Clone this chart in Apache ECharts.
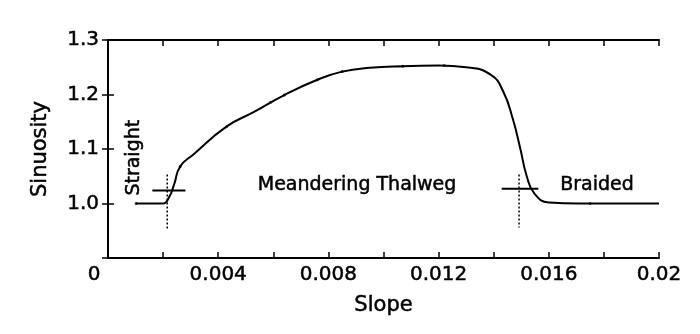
<!DOCTYPE html>
<html>
<head>
<meta charset="utf-8">
<script src="https://cdn.jsdelivr.net/npm/echarts@6/dist/echarts.min.js"></script>
<style>
html,body{margin:0;padding:0;background:#fff;}
#chart{width:700px;height:334px;}
</style>
</head>
<body>
<div id="chart"></div>
<script>
// Sinuosity vs slope curve
var curve = [
  [0.00102,1.0],[0.0020,1.0],[0.00222,1.012],[0.00240,1.035],[0.00262,1.068],
  [0.0031,1.090],[0.0043,1.141],[0.0053,1.168],[0.0064,1.199],
  [0.0076,1.227],[0.0085,1.242],[0.0095,1.249],[0.0107,1.252],[0.0120,1.253],
  [0.0130,1.250],[0.0139,1.236],[0.01435,1.205],[0.0147,1.154],[0.01496,1.102],
  [0.0152,1.050],[0.01548,1.018],[0.0160,1.002],[0.0171,1.0],[0.0200,1.0]
];
// Small measured dots on the curve
var measured = [
  [0.00102,1.0],[0.00262,1.068],[0.0043,1.141],[0.0059,1.186],[0.0064,1.199],
  [0.0076,1.227],[0.0085,1.242],[0.0107,1.252],[0.0122,1.253],[0.0175,1.0]
];
// Threshold crosshairs
var leftVertical = [[0.00215,1.053],[0.00215,0.952]];
var leftHorizontal = [[0.00161,1.024],[0.00281,1.024]];
var rightVertical = [[0.01492,1.053],[0.01492,0.956]];
var rightHorizontal = [[0.01429,1.027],[0.01562,1.027]];
// Region labels
var regionLabels = [
  {name:'Straight', value:[0.00095,1.084], rotate:90},
  {name:'Meandering Thalweg', value:[0.00904,1.033], rotate:0},
  {name:'Braided', value:[0.01775,1.033], rotate:0}
];
var xMin = 0, xMax = 0.02, xStep = 0.002;
var yMin = 0.9, yMax = 1.3, yStep = 0.1;

var FONT = 'DejaVu Sans';
var INK = '#000';
var BOLDEN = {textBorderColor:INK, textBorderWidth:0.5};

var chart = echarts.init(document.getElementById('chart'), null, {renderer:'canvas'});

function xLabel(v){
  var k = Math.round(v/0.002);
  if (k === 0) return '{z|0}';
  if (k % 2 !== 0) return '';
  if (k === 10) return '0.02';
  return (k*0.002).toFixed(3);
}

var axisCommon = {
  axisLine:{show:true, lineStyle:{color:INK, width:2}},
  axisTick:{show:true, inside:true, length:6, lineStyle:{color:INK, width:1.5}},
  splitLine:{show:false}
};

var option = {
  backgroundColor:'#fff',
  animation:false,
  grid:{left:108, right:41, top:40, bottom:76},
  xAxis:[
    Object.assign({
      type:'value', min:xMin, max:xMax, interval:xStep, position:'bottom',
      name:'Slope', nameLocation:'middle', nameGap:37,
      nameTextStyle:Object.assign({fontFamily:FONT, fontSize:21, color:INK}, BOLDEN),
      axisLabel:Object.assign({
        formatter:xLabel, margin:7, fontFamily:FONT, fontSize:20, color:INK,
        showMinLabel:true, showMaxLabel:true,
        rich:{z:Object.assign({fontFamily:FONT, fontSize:20, color:INK, padding:[0,28,0,0]}, BOLDEN)}
      }, BOLDEN)
    }, axisCommon),
    Object.assign({
      type:'value', min:xMin, max:xMax, interval:xStep, position:'top',
      axisLabel:{show:false}
    }, axisCommon)
  ],
  yAxis:[
    Object.assign({
      type:'value', min:yMin, max:yMax, interval:yStep, position:'left',
      name:'Sinuosity', nameLocation:'middle', nameGap:57, nameRotate:90,
      nameTextStyle:Object.assign({fontFamily:FONT, fontSize:21, color:INK}, BOLDEN),
      axisLabel:Object.assign({
        margin:9, fontFamily:FONT, fontSize:20, color:INK,
        formatter:function(v){ return v < 0.95 ? '' : v.toFixed(1); }
      }, BOLDEN)
    }, axisCommon),
    Object.assign({
      type:'value', min:yMin, max:yMax, interval:yStep, position:'right',
      axisLabel:{show:false}
    }, axisCommon)
  ],
  series:[
    {
      type:'line', data:curve, smooth:0.5, showSymbol:false,
      lineStyle:{color:INK, width:2}, z:3
    },
    {
      type:'scatter', data:measured, symbol:'circle', symbolSize:3,
      itemStyle:{color:INK}, z:4
    },
    {type:'line', data:leftVertical, showSymbol:false, lineStyle:{color:INK, width:1.5, type:[2,2]}},
    {type:'line', data:leftHorizontal, showSymbol:false, lineStyle:{color:INK, width:2}},
    {type:'line', data:rightVertical, showSymbol:false, lineStyle:{color:INK, width:1.5, type:[2,2]}},
    {type:'line', data:rightHorizontal, showSymbol:false, lineStyle:{color:INK, width:2}},
    {
      type:'scatter', symbolSize:1, silent:true,
      itemStyle:{color:'rgba(0,0,0,0)', opacity:1},
      data:regionLabels.map(function(d){
        return {name:d.name, value:d.value, label:{rotate:d.rotate}};
      }),
      label:Object.assign({
        show:true, position:'inside', formatter:'{b}', opacity:1,
        fontFamily:FONT, fontSize:19, color:INK
      }, BOLDEN)
    }
  ]
};
chart.setOption(option);
</script>
</body>
</html>
